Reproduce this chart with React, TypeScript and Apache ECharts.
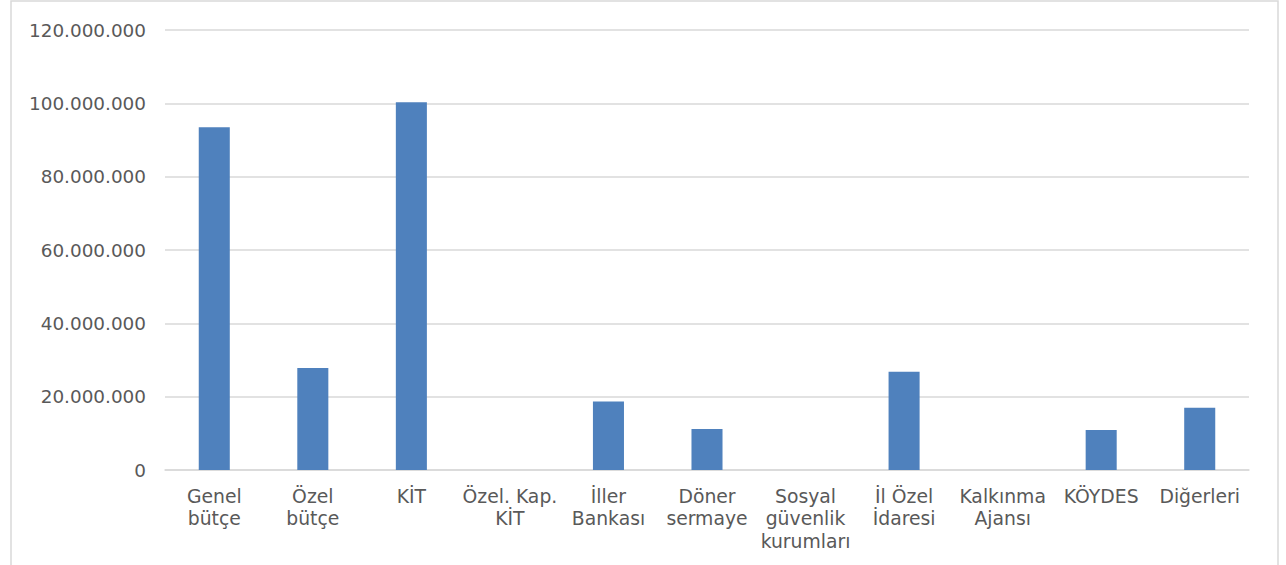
import React, { useEffect, useRef } from "react";
import * as echarts from "echarts";

const categories: string[] = [
  "Genel\nbütçe",
  "Özel\nbütçe",
  "KİT",
  "Özel. Kap.\nKİT",
  "İller\nBankası",
  "Döner\nsermaye",
  "Sosyal\ngüvenlik\nkurumları",
  "İl Özel\nİdaresi",
  "Kalkınma\nAjansı",
  "KÖYDES",
  "Diğerleri",
];

const values: number[] = [
  93500000, 27800000, 100300000, 0, 18700000, 11200000, 0, 26800000, 0, 10900000, 17000000,
];

const yMin = 0;
const yMax = 120000000;
const yInterval = 20000000;

function fmt(v: number): string {
  return String(Math.round(v)).replace(/\B(?=(\d{3})+(?!\d))/g, ".");
}

export default function App() {
  const ref = useRef<HTMLDivElement>(null);
  useEffect(() => {
    document.body.style.margin = "0";
    if (!ref.current) return;
    const chart = echarts.init(ref.current, undefined, { renderer: "svg" });
    const font = "'DejaVu Sans', Verdana, sans-serif";
    chart.setOption({
      animation: false,
      backgroundColor: "#ffffff",
      graphic: [
        {
          type: "rect",
          shape: { x: 11, y: 1, width: 1267, height: 620 },
          style: { fill: "none", stroke: "#d9d9d9", lineWidth: 1.5 },
          silent: true,
        },
      ],
      grid: { left: 165, right: 37, top: 30, bottom: 95, containLabel: false },
      xAxis: {
        type: "category",
        data: categories,
        axisLine: { show: true, lineStyle: { color: "#d9d9d9", width: 1.5 } },
        axisTick: { show: false },
        axisLabel: {
          interval: 0,
          color: "#595959",
          fontFamily: font,
          fontSize: 18.8,
          lineHeight: 22.5,
          margin: 15,
          align: "center",
        },
      },
      yAxis: {
        type: "value",
        min: yMin,
        max: yMax,
        interval: yInterval,
        axisLine: { show: false },
        axisTick: { show: false },
        splitLine: { show: true, lineStyle: { color: "#d9d9d9", width: 1.5 } },
        axisLabel: {
          color: "#595959",
          fontFamily: font,
          fontSize: 18.4,
          margin: 19,
          formatter: (v: number) => fmt(v),
        },
      },
      series: [
        {
          type: "bar",
          data: values,
          barWidth: "31.5%",
          itemStyle: { color: "#4f81bd" },
        },
      ],
    });
    return () => chart.dispose();
  }, []);
  return <div ref={ref} style={{ width: 1286, height: 565 }} />;
}
